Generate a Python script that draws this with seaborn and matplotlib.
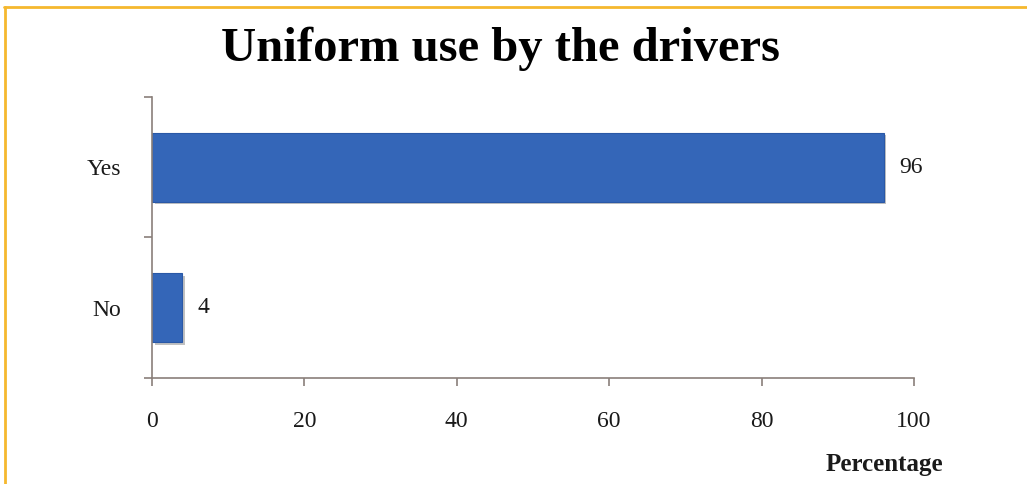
import matplotlib
matplotlib.use("Agg")
import matplotlib.pyplot as plt
import matplotlib.patheffects as pe
import seaborn as sns
import pandas as pd
from matplotlib.lines import Line2D

categories = ["Yes", "No"]
values = [96, 4]
xticks = [0, 20, 40, 60, 80, 100]
title = "Uniform use by the drivers"
xlabel = "Percentage"

sns.set_style("white")
plt.rcParams['font.family'] = ['Liberation Serif', 'DejaVu Serif']
plt.rcParams['text.color'] = '#1a1a1a'
plt.rcParams['xtick.color'] = '#8a7f7a'
plt.rcParams['ytick.color'] = '#8a7f7a'
plt.rcParams['xtick.labelcolor'] = '#1a1a1a'
plt.rcParams['ytick.labelcolor'] = '#1a1a1a'

df = pd.DataFrame({"cat": categories, "val": values})

fig = plt.figure(figsize=(10.27, 4.84), dpi=100)
ax = fig.add_axes([0.148, 0.219, 0.742, 0.581])

sns.barplot(data=df, x="val", y="cat", orient="h", color="#3466B8",
            saturation=1, width=0.49, ax=ax)
for p in ax.patches:
    p.set_path_effects([pe.SimplePatchShadow(offset=(2, -2), shadow_rgbFace="#999999", alpha=0.6), pe.Normal()])
    p.set_edgecolor("#2A58A6")
    p.set_linewidth(0.8)

ax.set_xlim(0, 100)
ax.set_ylim(1.5, -0.5)
ax.set_xticks(xticks)
ax.set_xticklabels([str(t) for t in xticks], fontsize=17)
ax.set_yticks([-0.5, 0.5, 1.5])
ax.set_yticklabels([])
ax.set_yticks([0, 1], minor=True)
ax.set_yticklabels(categories, minor=True, fontsize=17)
ax.tick_params(axis="y", which="minor", left=False, length=0, pad=22)
ax.tick_params(axis="y", which="major", left=True, length=6, width=1.2, direction="out")
ax.tick_params(axis="x", bottom=True, length=6, width=1.2, direction="out", pad=18)
ax.set_xlabel("")
ax.set_ylabel("")
for s in ["top", "right"]:
    ax.spines[s].set_visible(False)
for s in ["left", "bottom"]:
    ax.spines[s].set_color("#8a7f7a")
    ax.spines[s].set_linewidth(1.2)

for i, v in enumerate(values):
    ax.text(v + 2.0, i, str(v), va="center", ha="left", fontsize=17)

fig.text(0.487, 0.899, title, ha="center", va="center", fontsize=35, fontweight="bold", color="black")
fig.text(0.918, 0.04, xlabel, ha="right", va="center", fontsize=18, fontweight="bold")

fig.add_artist(Line2D([0.004, 1.0], [0.985, 0.985], transform=fig.transFigure, color="#F5B82E", lw=2))
fig.add_artist(Line2D([0.005, 0.005], [0.0, 0.985], transform=fig.transFigure, color="#F5B82E", lw=2))

fig.savefig("out.png", dpi=100)
